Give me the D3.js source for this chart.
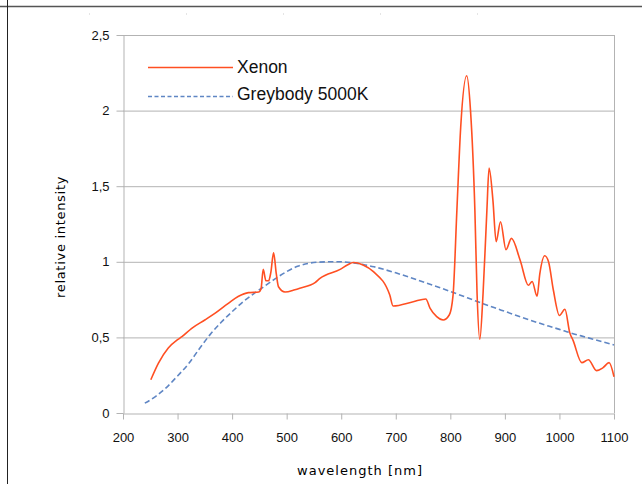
<!DOCTYPE html>
<html>
<head>
<meta charset="utf-8">
<script src="https://cdn.jsdelivr.net/npm/d3@7"></script>
<style>
body{margin:0;background:#fff;}
svg{display:block;font-family:'DejaVu Sans',sans-serif;}
.axis path,.axis line{stroke:#b3b3b3;stroke-width:1;}
.axis text{font-size:13px;fill:#111;}
.grid line{stroke:#b3b3b3;stroke-width:1;}
.legend text{font-family:'Liberation Sans',Arial,sans-serif;font-size:17.5px;fill:#111;}
</style>
</head>
<body>
<div id="chart"></div>
<script>
// data
const xenonNm  = [251,265,283,300,308,326,350,369,393,411,430,449,453,457,462,467,471,476,481,485,497,515,524,552,561,598,612,622,640,659,689,695,732,755,763,775,787,798,805,812,819,830,837,845,849,854,860,867,871,878,884,892,902,912,928,943,950,959,964,973,980,989,1000,1010,1019,1025,1041,1053,1068,1080,1091,1100];
const xenonVal = [0.22,0.33,0.43,0.485,0.505,0.56,0.615,0.66,0.725,0.77,0.796,0.80,0.82,0.95,0.875,0.875,0.93,1.06,0.92,0.835,0.80,0.815,0.825,0.862,0.89,0.95,0.98,0.995,0.979,0.935,0.78,0.708,0.736,0.754,0.692,0.637,0.615,0.648,0.78,1.34,1.89,2.23,2.0,1.34,0.79,0.487,0.79,1.34,1.62,1.41,1.133,1.265,1.08,1.155,1.01,0.845,0.87,0.772,0.92,1.04,1.0,0.81,0.645,0.686,0.53,0.48,0.333,0.352,0.28,0.30,0.333,0.24];
const greyNm   = [240,260,280,300,320,340,360,380,400,420,440,460,480,500,520,540,560,580,600,620,640,660,680,700,720,740,760,780,800,820,840,860,880,900,920,940,960,980,1000,1020,1040,1060,1080,1100];
const greyVal  = [0.065,0.11,0.17,0.245,0.325,0.425,0.52,0.60,0.67,0.735,0.79,0.84,0.89,0.935,0.97,0.99,0.998,1.0,1.0,0.993,0.982,0.967,0.948,0.927,0.904,0.88,0.855,0.83,0.804,0.777,0.75,0.723,0.697,0.672,0.647,0.622,0.598,0.575,0.553,0.53,0.51,0.49,0.47,0.45];
const xTicks = [200,300,400,500,600,700,800,900,1000,1100];
const yTicks = [0,0.5,1,1.5,2,2.5];
const seriesNames = ['Xenon','Greybody 5000K'];
const seriesColors = ['#ff4f22','#5f86c4'];

class SpectrumChart{
    width; height; svg; scaleX; scaleY;

    constructor(container, width, height){
        this.width = width;
        this.height = height;
        this.svg = d3.select(container).append('svg')
            .attr('width', width).attr('height', height);
        // frame lines of the sheet
        this.svg.append('line').attr('x1',0).attr('x2',width).attr('y1',6.5).attr('y2',6.5)
            .attr('stroke','#555').attr('stroke-width',1.5);
        this.svg.append('line').attr('x1',7.5).attr('x2',7.5).attr('y1',0).attr('y2',height)
            .attr('stroke','#222');
        this.svg.selectAll('rect.dot').data([89,186,283,380,477]).join('rect')
            .attr('x',d=>d).attr('y',13.5).attr('width',1).attr('height',1).attr('fill','#ccc');

        this.scaleX = d3.scaleLinear([200,1100],[123,614]);
        this.scaleY = d3.scaleLinear([0,2.5],[413,35]);
    }

    #drawGrid(){
        this.svg.append('g').classed('grid', true)
            .selectAll('line').data(yTicks.slice(1)).join('line')
            .attr('x1',123).attr('x2',614)
            .attr('y1',d=>this.scaleY(d)+0.5).attr('y2',d=>this.scaleY(d)+0.5);
        this.svg.append('line').attr('x1',614.5).attr('x2',614.5)
            .attr('y1',this.scaleY(2.5)).attr('y2',this.scaleY(0))
            .attr('stroke','#b3b3b3');
    }

    #drawAxes(){
        const fmt = d=>String(d).replace('.',',');
        this.svg.append('g').classed('axis', true)
            .attr('transform','translate(0,413.5)')
            .call(d3.axisBottom(this.scaleX).tickValues(xTicks).tickFormat(d=>d)
                .tickSizeInner(6).tickSizeOuter(0).tickPadding(13));
        this.svg.append('g').classed('axis', true)
            .attr('transform','translate(123.5,0)')
            .call(d3.axisLeft(this.scaleY).tickValues(yTicks).tickFormat(fmt)
                .tickSizeInner(7).tickSizeOuter(0).tickPadding(7));
        this.svg.selectAll('.axis .domain').attr('stroke','#b3b3b3');

        this.svg.append('text')
            .attr('x',360).attr('y',475)
            .attr('text-anchor','middle')
            .style('font-size','13px').style('letter-spacing','1px')
            .text('wavelength [nm]');
        this.svg.append('text')
            .attr('transform','translate(65,237)rotate(-90)')
            .attr('text-anchor','middle')
            .style('font-size','13px').style('letter-spacing','0.7px')
            .text('relative intensity');
    }

    #drawLines(){
        const line = d3.line().x(d=>this.scaleX(d[0])).y(d=>this.scaleY(d[1]))
            .curve(d3.curveMonotoneX);
        const grey = greyNm.map((d,i)=>[d,greyVal[i]]);
        const xenon = xenonNm.map((d,i)=>[d,xenonVal[i]]);
        this.svg.append('path').datum(grey).attr('d',line)
            .attr('fill','none').attr('stroke',seriesColors[1])
            .attr('stroke-width',1.6).attr('stroke-dasharray','5.5,3');
        this.svg.append('path').datum(xenon).attr('d',line)
            .attr('fill','none').attr('stroke',seriesColors[0])
            .attr('stroke-width',1.6).attr('stroke-linejoin','round');
    }

    #drawLegend(){
        const rows = [{y:67.5, ty:73}, {y:96.5, ty:99.5}];
        const g = this.svg.append('g').classed('legend', true);
        seriesNames.forEach((name,i)=>{
            g.append('line').attr('x1',148).attr('x2',233)
                .attr('y1',rows[i].y).attr('y2',rows[i].y)
                .attr('stroke',seriesColors[i]).attr('stroke-width',1.6)
                .attr('stroke-dasharray', i==1 ? '4,2.5' : null);
            g.append('text').attr('x',237).attr('y',rows[i].ty).text(name);
        });
    }

    render(){
        this.#drawGrid();
        this.#drawAxes();
        this.#drawLines();
        this.#drawLegend();
        return this;
    }
}

new SpectrumChart('#chart', 642, 484).render();
</script>
</body>
</html>
